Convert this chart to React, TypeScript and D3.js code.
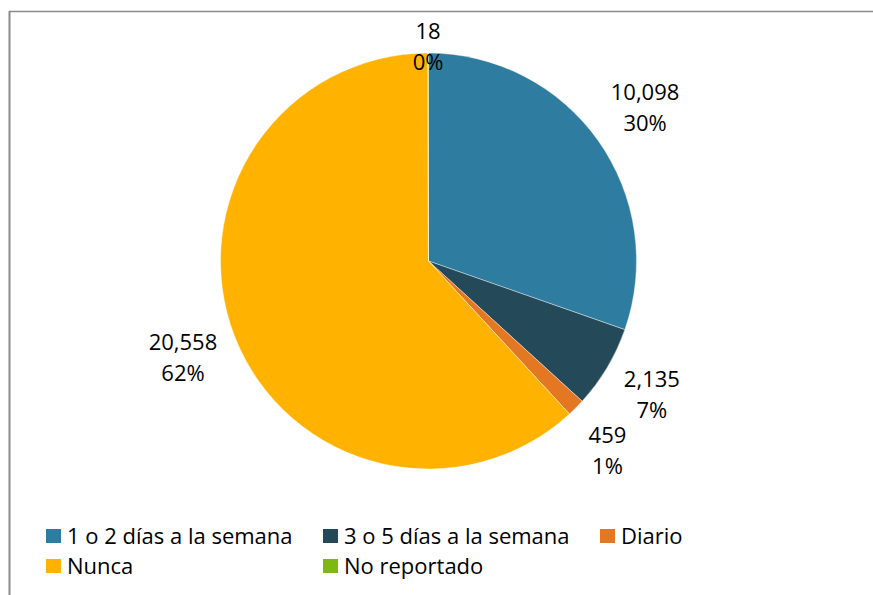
import React from "react";
import * as d3 from "d3";

const categories = ["1 o 2 días a la semana", "3 o 5 días a la semana", "Diario", "Nunca", "No reportado"];
const values = [10098, 2135, 459, 20558, 18];
const valueLabels = ["10,098", "2,135", "459", "20,558", "18"];
const percentLabels = ["30%", "7%", "1%", "62%", "0%"];
const colors = ["#2E7DA1", "#244A5A", "#E47722", "#FFB300", "#7DB813"];

const W = 873;
const H = 595;
const cx = 428.5;
const cy = 261;
const R = 208;
const FONT = "'Open Sans', Lato, sans-serif";
const FS = 22;

export default function App() {
  const pie = d3.pie<number>().sort(null).value((d) => d)(values);
  const arc = d3.arc<d3.PieArcDatum<number>>().innerRadius(0).outerRadius(R);

  const labelW = valueLabels.map((v) => Math.max(v.length, 3) * 12);
  const halfH = 28;
  const gap = 12;

  const boxes: { x: number; y: number; w: number }[] = [];
  const labels = pie.map((p, i) => {
    const a = (p.startAngle + p.endAngle) / 2;
    const s = Math.sin(a);
    const c = -Math.cos(a);
    const ext = Math.abs(s) * (labelW[i] / 2) + Math.abs(c) * halfH;
    const rr = R + gap + ext;
    const lx = cx + s * rr;
    let ly = cy + c * rr;
    ly = Math.max(ly, 46);
    for (const b of boxes) {
      if (Math.abs(b.x - lx) < (b.w + labelW[i]) / 2 && Math.abs(b.y - ly) < 2 * halfH) {
        if (ly > b.y || c > 0) ly = b.y + 2 * halfH;
      }
    }
    boxes.push({ x: lx, y: ly, w: labelW[i] });
    return { lx, ly };
  });

  const legendCols = [46, 323, 600];
  const legendRows = [536, 566];

  return (
    <svg
      width={W}
      height={H}
      style={{ position: "absolute", left: 0, top: 0, background: "#fff" }}
      fontFamily={FONT}
    >
      <rect x={0} y={0} width={W} height={H} fill="#fff" />
      <line x1={9} y1={11.5} x2={W} y2={11.5} stroke="#8a8a8a" strokeWidth={1.5} />
      <line x1={9.5} y1={11} x2={9.5} y2={H} stroke="#8a8a8a" strokeWidth={2} />
      <g transform={`translate(${cx},${cy})`}>
        {pie.map((p, i) => (
          <path key={i} d={arc(p) || ""} fill={colors[i]} stroke="#ffffff" strokeWidth={0.4} />
        ))}
      </g>
      {labels.map(({ lx, ly }, i) => (
        <text key={i} textAnchor="middle" fontSize={FS} fill="#000">
          <tspan x={lx} y={ly - 15 + 8}>{valueLabels[i]}</tspan>
          <tspan x={lx} y={ly + 16 + 8}>{percentLabels[i]}</tspan>
        </text>
      ))}
      {categories.map((cat, i) => {
        const col = i % 3;
        const row = Math.floor(i / 3);
        const x = legendCols[col];
        const y = legendRows[row];
        return (
          <g key={cat}>
            <rect x={x} y={y - 7} width={15} height={14} fill={colors[i]} />
            <text x={x + 21} y={y + 8} fontSize={FS} fill="#000">{cat}</text>
          </g>
        );
      })}
    </svg>
  );
}
